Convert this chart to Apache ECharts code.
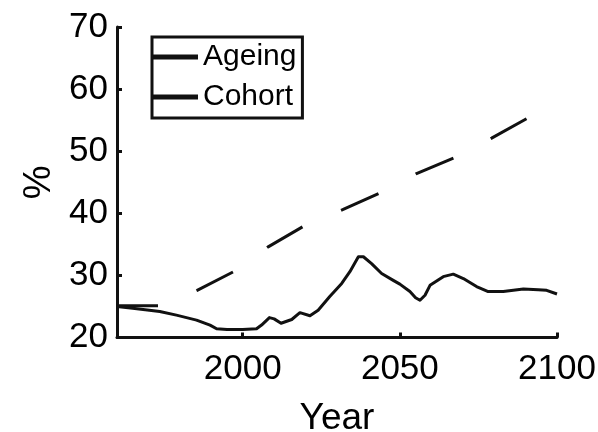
<!DOCTYPE html>
<html>
<head>
<meta charset="utf-8">
<script src="https://cdn.jsdelivr.net/npm/echarts@6/dist/echarts.min.js"></script>
<style>
html,body{margin:0;padding:0;background:#fff;}
#chart{width:598px;height:432px;}
</style>
</head>
<body>
<div id="chart"></div>
<script>
// Data
const seriesNames = ['Ageing', 'Cohort'];
const xTickLabels = [2000, 2050, 2100];
const yTickLabels = [20, 30, 40, 50, 60, 70];

const ageingYears = [1960, 1975.5, 1985.5, 1997.5, 2008.1, 2019.3, 2031.8, 2043.7, 2055.3, 2067.5, 2079.2, 2090.9];
const ageingValues = [25.1, 25.1, 27.6, 30.7, 34.6, 37.9, 40.6, 43.3, 46.4, 49.0, 52.1, 55.4];

const cohortYears = [1960, 1965, 1973.6, 1978.9, 1985.3, 1989.6, 1991.7, 1995, 2000, 2004.4, 2006, 2008.5, 2010, 2012.2, 2015.6, 2018.2, 2021.4, 2024, 2027.7, 2031.5, 2034.1, 2036.8, 2038.4, 2041, 2044.2, 2047.9, 2050, 2053.2, 2055, 2056.4, 2058, 2059.6, 2063.8, 2067, 2070.2, 2074.4, 2078.1, 2082.9, 2089.3, 2094, 2096.7, 2100];
const cohortValues = [25.0, 24.7, 24.2, 23.6, 22.8, 22.0, 21.4, 21.3, 21.3, 21.4, 22.0, 23.2, 23.0, 22.3, 22.9, 24.0, 23.5, 24.4, 26.6, 28.7, 30.6, 33.0, 33.0, 31.9, 30.3, 29.2, 28.6, 27.4, 26.4, 26.0, 26.8, 28.4, 29.8, 30.2, 29.5, 28.2, 27.4, 27.4, 27.8, 27.7, 27.6, 27.0];

const pairs = (xs, ys) => xs.map((x, i) => [x, ys[i]]);
const FONT = '"Liberation Sans", Arial, Helvetica, sans-serif';
const INK = '#111';

const chart = echarts.init(document.getElementById('chart'), null, {renderer: 'canvas'});
chart.setOption({
  backgroundColor: '#fff',
  animation: false,
  grid: {left: 117, right: 41, top: 27, bottom: 94.5, containLabel: false, outerBoundsMode: 'none'},
  legend: {
    data: seriesNames,
    orient: 'vertical',
    left: 152,
    top: 37,
    icon: 'rect',
    itemWidth: 46,
    itemHeight: 5,
    itemGap: 10,
    padding: [5, 6, 6, 0],
    borderColor: INK,
    borderWidth: 3,
    backgroundColor: '#fff',
    textStyle: {fontSize: 30, color: '#000', fontFamily: FONT, lineHeight: 30}
  },
  xAxis: {
    type: 'value',
    min: 1960,
    max: 2100,
    name: 'Year',
    nameLocation: 'middle',
    nameGap: 63,
    nameTextStyle: {fontSize: 37, color: '#000', fontFamily: FONT},
    splitLine: {show: false},
    axisLine: {show: true, lineStyle: {color: INK, width: 3}},
    axisTick: {show: true, inside: true, length: 5, lineStyle: {color: INK, width: 3}, customValues: xTickLabels},
    axisLabel: {fontSize: 35, color: '#000', fontFamily: FONT, margin: 14, customValues: xTickLabels, formatter: v => String(v)}
  },
  yAxis: {
    type: 'value',
    min: 20,
    max: 70,
    interval: 10,
    name: '%',
    nameLocation: 'middle',
    nameRotate: 90,
    nameGap: 47,
    nameTextStyle: {fontSize: 38, color: '#000', fontFamily: FONT},
    splitLine: {show: false},
    axisLine: {show: true, lineStyle: {color: INK, width: 3}},
    axisTick: {show: true, inside: true, length: 5, lineStyle: {color: INK, width: 3}},
    axisLabel: {fontSize: 35, color: '#000', fontFamily: FONT, margin: 9, customValues: yTickLabels, formatter: v => String(v)}
  },
  series: [
    {
      name: seriesNames[0],
      type: 'line',
      color: INK,
      showSymbol: false,
      data: pairs(ageingYears, ageingValues),
      lineStyle: {color: INK, width: 3, type: [41, 42], cap: 'butt'}
    },
    {
      name: seriesNames[1],
      type: 'line',
      color: INK,
      showSymbol: false,
      data: pairs(cohortYears, cohortValues),
      lineStyle: {color: INK, width: 3, type: 'solid', join: 'round'}
    }
  ]
});
</script>
</body>
</html>
